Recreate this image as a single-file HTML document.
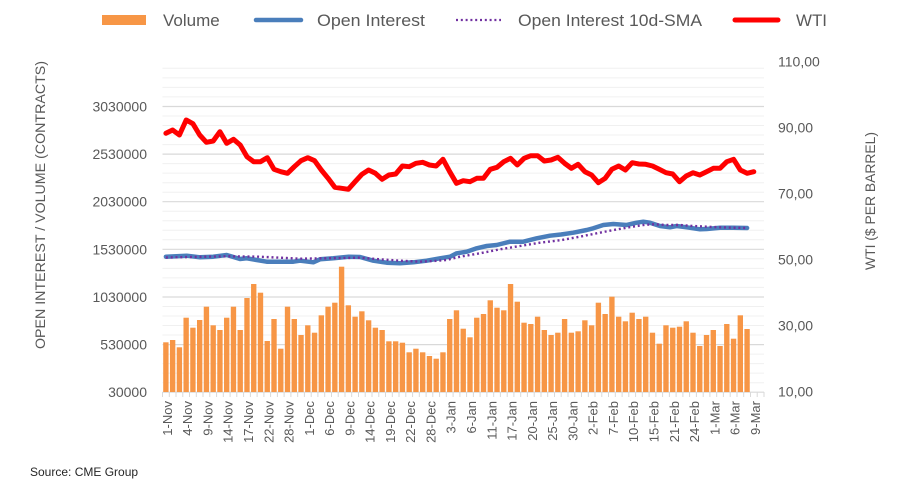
<!DOCTYPE html>
<html><head><meta charset="utf-8"><style>
html,body{margin:0;padding:0;background:#fff;}
svg{display:block;font-family:"Liberation Sans",sans-serif;}
</style></head><body>
<svg width="910" height="498" viewBox="0 0 910 498" xmlns="http://www.w3.org/2000/svg">
<rect width="910" height="498" fill="#fff"/>
<!-- minor gridlines -->
<g stroke="#f0f0f0" stroke-width="1">
<line x1="162.5" x2="764" y1="68.3" y2="68.3"/><line x1="162.5" x2="764" y1="77.9" y2="77.9"/><line x1="162.5" x2="764" y1="87.4" y2="87.4"/><line x1="162.5" x2="764" y1="96.9" y2="96.9"/>
<line x1="162.5" x2="764" y1="116" y2="116"/><line x1="162.5" x2="764" y1="125.5" y2="125.5"/><line x1="162.5" x2="764" y1="135" y2="135"/><line x1="162.5" x2="764" y1="144.6" y2="144.6"/>
<line x1="162.5" x2="764" y1="163.6" y2="163.6"/><line x1="162.5" x2="764" y1="173.1" y2="173.1"/><line x1="162.5" x2="764" y1="182.7" y2="182.7"/><line x1="162.5" x2="764" y1="192.2" y2="192.2"/>
<line x1="162.5" x2="764" y1="211.2" y2="211.2"/><line x1="162.5" x2="764" y1="220.7" y2="220.7"/><line x1="162.5" x2="764" y1="230.3" y2="230.3"/><line x1="162.5" x2="764" y1="239.8" y2="239.8"/>
<line x1="162.5" x2="764" y1="258.8" y2="258.8"/><line x1="162.5" x2="764" y1="268.4" y2="268.4"/><line x1="162.5" x2="764" y1="277.9" y2="277.9"/><line x1="162.5" x2="764" y1="287.4" y2="287.4"/>
<line x1="162.5" x2="764" y1="306.5" y2="306.5"/><line x1="162.5" x2="764" y1="316" y2="316"/><line x1="162.5" x2="764" y1="325.5" y2="325.5"/><line x1="162.5" x2="764" y1="335" y2="335"/>
<line x1="162.5" x2="764" y1="354.1" y2="354.1"/><line x1="162.5" x2="764" y1="363.6" y2="363.6"/><line x1="162.5" x2="764" y1="373.1" y2="373.1"/><line x1="162.5" x2="764" y1="382.7" y2="382.7"/>
</g>
<!-- major gridlines -->
<g stroke="#d9d9d9" stroke-width="1.2">
<line x1="162.5" x2="764" y1="106.5" y2="106.5"/><line x1="162.5" x2="764" y1="154.1" y2="154.1"/><line x1="162.5" x2="764" y1="201.7" y2="201.7"/><line x1="162.5" x2="764" y1="249.3" y2="249.3"/><line x1="162.5" x2="764" y1="297" y2="297"/><line x1="162.5" x2="764" y1="344.6" y2="344.6"/><line x1="162.5" x2="764" y1="392.2" y2="392.2"/>
</g>
<!-- x ticks -->
<g stroke="#d9d9d9" stroke-width="1">
<path d="M162.5 392v5M169.3 392v5M176 392v5M182.8 392v5M189.5 392v5M196.3 392v5M203 392v5M209.8 392v5M216.6 392v5M223.3 392v5M230.1 392v5M236.8 392v5M243.6 392v5M250.4 392v5M257.1 392v5M263.9 392v5M270.6 392v5M277.4 392v5M284.1 392v5M290.9 392v5M297.7 392v5M304.4 392v5M311.2 392v5M317.9 392v5M324.7 392v5M331.5 392v5M338.2 392v5M345 392v5M351.7 392v5M358.5 392v5M365.2 392v5M372 392v5M378.8 392v5M385.5 392v5M392.3 392v5M399 392v5M405.8 392v5M412.6 392v5M419.3 392v5M426.1 392v5M432.8 392v5M439.6 392v5M446.3 392v5M453.1 392v5M459.9 392v5M466.6 392v5M473.4 392v5M480.1 392v5M486.9 392v5M493.7 392v5M500.4 392v5M507.2 392v5M513.9 392v5M520.7 392v5M527.4 392v5M534.2 392v5M541 392v5M547.7 392v5M554.5 392v5M561.2 392v5M568 392v5M574.8 392v5M581.5 392v5M588.3 392v5M595 392v5M601.8 392v5M608.5 392v5M615.3 392v5M622.1 392v5M628.8 392v5M635.6 392v5M642.3 392v5M649.1 392v5M655.9 392v5M662.6 392v5M669.4 392v5M676.1 392v5M682.9 392v5M689.6 392v5M696.4 392v5M703.2 392v5M709.9 392v5M716.7 392v5M723.4 392v5M730.2 392v5M737 392v5M743.7 392v5M750.5 392v5M757.2 392v5M764 392v5"/>
</g>
<!-- volume bars -->
<g fill="#f79646">
<rect x="163.2" y="342.3" width="5.36" height="49.7"/>
<rect x="169.96" y="340" width="5.36" height="52"/>
<rect x="176.72" y="347.3" width="5.36" height="44.7"/>
<rect x="183.47" y="317.7" width="5.36" height="74.3"/>
<rect x="190.23" y="327.7" width="5.36" height="64.3"/>
<rect x="196.99" y="320" width="5.36" height="72"/>
<rect x="203.75" y="306.7" width="5.36" height="85.3"/>
<rect x="210.51" y="325.3" width="5.36" height="66.7"/>
<rect x="217.26" y="330" width="5.36" height="62"/>
<rect x="224.02" y="317.7" width="5.36" height="74.3"/>
<rect x="230.78" y="306.7" width="5.36" height="85.3"/>
<rect x="237.54" y="330" width="5.36" height="62"/>
<rect x="244.3" y="298" width="5.36" height="94"/>
<rect x="251.05" y="284" width="5.36" height="108"/>
<rect x="257.81" y="292.7" width="5.36" height="99.3"/>
<rect x="264.57" y="341" width="5.36" height="51"/>
<rect x="271.33" y="319" width="5.36" height="73"/>
<rect x="278.09" y="348.7" width="5.36" height="43.3"/>
<rect x="284.84" y="306.7" width="5.36" height="85.3"/>
<rect x="291.6" y="319" width="5.36" height="73"/>
<rect x="298.36" y="335" width="5.36" height="57"/>
<rect x="305.12" y="325.3" width="5.36" height="66.7"/>
<rect x="311.88" y="332.7" width="5.36" height="59.3"/>
<rect x="318.63" y="315.3" width="5.36" height="76.7"/>
<rect x="325.39" y="306.7" width="5.36" height="85.3"/>
<rect x="332.15" y="302.7" width="5.36" height="89.3"/>
<rect x="338.91" y="266.7" width="5.36" height="125.3"/>
<rect x="345.67" y="305.3" width="5.36" height="86.7"/>
<rect x="352.42" y="316.7" width="5.36" height="75.3"/>
<rect x="359.18" y="311.3" width="5.36" height="80.7"/>
<rect x="365.94" y="320.3" width="5.36" height="71.7"/>
<rect x="372.7" y="327.7" width="5.36" height="64.3"/>
<rect x="379.46" y="330" width="5.36" height="62"/>
<rect x="386.21" y="341.3" width="5.36" height="50.7"/>
<rect x="392.97" y="341.3" width="5.36" height="50.7"/>
<rect x="399.73" y="342.7" width="5.36" height="49.3"/>
<rect x="406.49" y="352.3" width="5.36" height="39.7"/>
<rect x="413.25" y="348.7" width="5.36" height="43.3"/>
<rect x="420" y="352.3" width="5.36" height="39.7"/>
<rect x="426.76" y="356" width="5.36" height="36"/>
<rect x="433.52" y="358.7" width="5.36" height="33.3"/>
<rect x="440.28" y="352.3" width="5.36" height="39.7"/>
<rect x="447.04" y="319" width="5.36" height="73"/>
<rect x="453.79" y="310.3" width="5.36" height="81.7"/>
<rect x="460.55" y="328.7" width="5.36" height="63.3"/>
<rect x="467.31" y="337.3" width="5.36" height="54.7"/>
<rect x="474.07" y="317.7" width="5.36" height="74.3"/>
<rect x="480.83" y="314" width="5.36" height="78"/>
<rect x="487.58" y="300.3" width="5.36" height="91.7"/>
<rect x="494.34" y="307.7" width="5.36" height="84.3"/>
<rect x="501.1" y="310.3" width="5.36" height="81.7"/>
<rect x="507.86" y="284" width="5.36" height="108"/>
<rect x="514.62" y="301.7" width="5.36" height="90.3"/>
<rect x="521.37" y="322.7" width="5.36" height="69.3"/>
<rect x="528.13" y="324" width="5.36" height="68"/>
<rect x="534.89" y="316.7" width="5.36" height="75.3"/>
<rect x="541.65" y="330" width="5.36" height="62"/>
<rect x="548.41" y="335" width="5.36" height="57"/>
<rect x="555.16" y="332.7" width="5.36" height="59.3"/>
<rect x="561.92" y="319" width="5.36" height="73"/>
<rect x="568.68" y="332.7" width="5.36" height="59.3"/>
<rect x="575.44" y="331.3" width="5.36" height="60.7"/>
<rect x="582.2" y="320.3" width="5.36" height="71.7"/>
<rect x="588.95" y="325.3" width="5.36" height="66.7"/>
<rect x="595.71" y="302.7" width="5.36" height="89.3"/>
<rect x="602.47" y="314" width="5.36" height="78"/>
<rect x="609.23" y="296.7" width="5.36" height="95.3"/>
<rect x="615.99" y="316.7" width="5.36" height="75.3"/>
<rect x="622.74" y="321.3" width="5.36" height="70.7"/>
<rect x="629.5" y="312.7" width="5.36" height="79.3"/>
<rect x="636.26" y="319" width="5.36" height="73"/>
<rect x="643.02" y="316.7" width="5.36" height="75.3"/>
<rect x="649.78" y="332.7" width="5.36" height="59.3"/>
<rect x="656.53" y="343.7" width="5.36" height="48.3"/>
<rect x="663.29" y="325.3" width="5.36" height="66.7"/>
<rect x="670.05" y="327.7" width="5.36" height="64.3"/>
<rect x="676.81" y="326.7" width="5.36" height="65.3"/>
<rect x="683.57" y="321.3" width="5.36" height="70.7"/>
<rect x="690.32" y="332.7" width="5.36" height="59.3"/>
<rect x="697.08" y="346" width="5.36" height="46"/>
<rect x="703.84" y="335" width="5.36" height="57"/>
<rect x="710.6" y="330" width="5.36" height="62"/>
<rect x="717.36" y="346" width="5.36" height="46"/>
<rect x="724.11" y="324" width="5.36" height="68"/>
<rect x="730.87" y="338.7" width="5.36" height="53.3"/>
<rect x="737.63" y="315.3" width="5.36" height="76.7"/>
<rect x="744.39" y="329" width="5.36" height="63"/>
</g>
<!-- Open Interest -->
<polyline fill="none" stroke="#4a7ebb" stroke-width="4.5" stroke-linejoin="round" stroke-linecap="round" points="165.9,256.7 186.7,255.7 200,257.3 213.3,256.7 226.7,255 240,259 246.7,258.3 256.7,260 266.7,261.7 280,261.7 293.3,261.7 300,260.7 313.3,262.3 320,259.3 333.3,258.3 348.7,256.7 360,257 373.3,260.7 386.7,262.7 400,263.3 413.3,262.3 426.7,260.7 440,258.3 450,256.7 456.7,253.3 466.7,251.7 476.7,248.3 486.7,246 496.7,245 510,241.7 523.3,241.7 536.7,238.3 550,235.7 561,234.5 573.3,232.7 586.7,230 593.3,228.3 603.3,225 613.3,224 626.7,225 636.7,222.7 643.3,221.7 650,222.7 660,226 670,227.3 676.7,226 686.7,227.3 700,229.3 706.7,229 720,227.7 733.3,227.7 747.1,228"/>
<!-- SMA -->
<polyline fill="none" stroke="#7030a0" stroke-width="2.4" stroke-dasharray="2 2.8" points="165.9,257.5 226.7,256.3 260,256.7 300,258.7 360,257.7 380,259.3 400,260.7 420,261.7 433.3,261 446.7,260 460,256.7 480,253.3 500,249.3 520,246 540,242.7 560,240.3 576.7,237.3 593.3,234 610,230.7 626.7,227.7 643.3,225 653.3,224.3 666.7,225 680,225 693.3,226 706.7,226.7 720,227.3 733.3,227.7 747.1,228"/>
<!-- WTI -->
<polyline fill="none" stroke="#ff0000" stroke-width="5" stroke-linejoin="round" stroke-linecap="round" points="165.9,133.3 172.6,130 179.4,135 186.2,120 192.9,123.7 199.7,135 206.4,142.3 213.2,141 219.9,131.7 226.7,143.3 233.5,139.3 240.2,145 247,156.7 253.7,161.7 260.5,161.7 267.3,157.7 274,169.3 280.8,171.7 287.5,173.3 294.3,166.7 301,160.7 307.8,157.7 314.6,160.7 321.3,170 328.1,178.3 334.8,187.3 341.6,188.3 348.3,189.3 355.1,181.7 361.9,174.3 368.6,170 375.4,173.3 382.1,179.3 388.9,175 395.7,174 402.4,166 409.2,166.7 415.9,163.3 422.7,162.3 429.4,165 436.2,166 443,159.3 449.7,171.7 456.5,183.3 463.2,180.7 470,181.7 476.8,178.3 483.5,178.3 490.3,169.3 497,167.3 503.8,161.7 510.5,158.3 517.3,165 524.1,158.3 530.8,155.7 537.6,155.7 544.3,161 551.1,160 557.8,157.3 564.6,163.3 571.4,168.3 578.1,164.3 584.9,171.7 591.6,175 598.4,182.7 605.2,178.3 611.9,169.3 618.7,166 625.4,170 632.2,162.7 638.9,164 645.7,164.3 652.5,166 659.2,169.3 666,172.7 672.7,174 679.5,181.7 686.2,176 693,172.7 699.8,175 706.5,171.7 713.3,168.3 720,168.3 726.8,161.7 733.6,159.3 740.3,170 747.1,173.3 753.8,171.7"/>
<!-- left axis labels -->
<g fill="#595959" font-size="14" text-anchor="end">
<text x="147" y="111.5">3030000</text>
<text x="147" y="159.1">2530000</text>
<text x="147" y="206.7">2030000</text>
<text x="147" y="254.3">1530000</text>
<text x="147" y="302">1030000</text>
<text x="147" y="349.6">530000</text>
<text x="147" y="397.2">30000</text>
</g>
<!-- right axis labels -->
<g fill="#595959" font-size="14">
<text x="778" y="66.7">110,00</text>
<text x="778" y="132.7">90,00</text>
<text x="778" y="198.7">70,00</text>
<text x="778" y="264.7">50,00</text>
<text x="778" y="330.7">30,00</text>
<text x="778" y="396.7">10,00</text>
</g>
<!-- x labels -->
<g fill="#595959" font-size="13" text-anchor="end">
<text transform="translate(171.9,401) rotate(-90)">1-Nov</text>
<text transform="translate(192.1,401) rotate(-90)">4-Nov</text>
<text transform="translate(212.4,401) rotate(-90)">9-Nov</text>
<text transform="translate(232.7,401) rotate(-90)">14-Nov</text>
<text transform="translate(253,401) rotate(-90)">17-Nov</text>
<text transform="translate(273.3,401) rotate(-90)">22-Nov</text>
<text transform="translate(293.5,401) rotate(-90)">28-Nov</text>
<text transform="translate(313.8,401) rotate(-90)">1-Dec</text>
<text transform="translate(334.1,401) rotate(-90)">6-Dec</text>
<text transform="translate(354.4,401) rotate(-90)">9-Dec</text>
<text transform="translate(374.6,401) rotate(-90)">14-Dec</text>
<text transform="translate(394.9,401) rotate(-90)">19-Dec</text>
<text transform="translate(415.2,401) rotate(-90)">22-Dec</text>
<text transform="translate(435.5,401) rotate(-90)">28-Dec</text>
<text transform="translate(455.7,401) rotate(-90)">3-Jan</text>
<text transform="translate(476,401) rotate(-90)">6-Jan</text>
<text transform="translate(496.3,401) rotate(-90)">11-Jan</text>
<text transform="translate(516.6,401) rotate(-90)">17-Jan</text>
<text transform="translate(536.8,401) rotate(-90)">20-Jan</text>
<text transform="translate(557.1,401) rotate(-90)">25-Jan</text>
<text transform="translate(577.4,401) rotate(-90)">30-Jan</text>
<text transform="translate(597.7,401) rotate(-90)">2-Feb</text>
<text transform="translate(617.9,401) rotate(-90)">7-Feb</text>
<text transform="translate(638.2,401) rotate(-90)">10-Feb</text>
<text transform="translate(658.5,401) rotate(-90)">15-Feb</text>
<text transform="translate(678.8,401) rotate(-90)">21-Feb</text>
<text transform="translate(699,401) rotate(-90)">24-Feb</text>
<text transform="translate(719.3,401) rotate(-90)">1-Mar</text>
<text transform="translate(739.6,401) rotate(-90)">6-Mar</text>
<text transform="translate(759.9,401) rotate(-90)">9-Mar</text>
</g>
<!-- axis titles -->
<text transform="translate(45,205) rotate(-90)" text-anchor="middle" fill="#595959" font-size="14" textLength="288" lengthAdjust="spacingAndGlyphs">OPEN INTEREST / VOLUME (CONTRACTS)</text>
<text transform="translate(875,201) rotate(-90)" text-anchor="middle" fill="#595959" font-size="14" textLength="138" lengthAdjust="spacingAndGlyphs">WTI ($ PER BARREL)</text>
<!-- legend -->
<rect x="102" y="15" width="44" height="10" fill="#f79646"/>
<text x="163" y="26" fill="#595959" font-size="17">Volume</text>
<line x1="256" y1="20" x2="301" y2="20" stroke="#4a7ebb" stroke-width="4.5" stroke-linecap="round"/>
<text x="317" y="26" fill="#595959" font-size="17" textLength="108" lengthAdjust="spacingAndGlyphs">Open Interest</text>
<line x1="456" y1="20" x2="501" y2="20" stroke="#7030a0" stroke-width="2.2" stroke-dasharray="2 2.8"/>
<text x="518" y="26" fill="#595959" font-size="17" textLength="184" lengthAdjust="spacingAndGlyphs">Open Interest 10d-SMA</text>
<line x1="735" y1="20" x2="778" y2="20" stroke="#ff0000" stroke-width="5" stroke-linecap="round"/>
<text x="796" y="26" fill="#595959" font-size="17" textLength="31" lengthAdjust="spacingAndGlyphs">WTI</text>
<!-- source -->
<text x="30" y="476" fill="#262626" font-size="12">Source: CME Group</text>
</svg>
</body></html>
